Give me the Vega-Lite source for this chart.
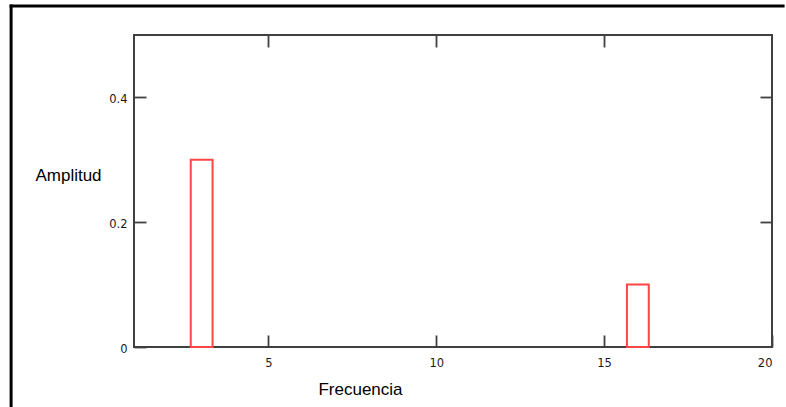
{
  "$schema": "https://vega.github.io/schema/vega-lite/v6.json",
  "width": 638,
  "height": 312,
  "autosize": {"type": "none"},
  "padding": {"left": 134, "top": 35, "right": 14, "bottom": 60},
  "background": "white",
  "config": {
    "view": {"stroke": "#404040", "strokeWidth": 2},
    "axis": {
      "grid": false,
      "domain": false,
      "tickColor": "#404040",
      "tickWidth": 1.8,
      "tickSize": -12,
      "labelFont": "DejaVu Sans",
      "labelFontSize": 11.5,
      "labelColor": "#1a1a1a",
      "titleFont": "Liberation Sans",
      "titleFontSize": 17,
      "titleFontWeight": "normal",
      "titleColor": "#000000"
    }
  },
  "datasets": {
    "espectro": [
      {"f_ini": 2.69, "f_fin": 3.34, "amplitud": 0.3},
      {"f_ini": 15.68, "f_fin": 16.33, "amplitud": 0.1}
    ],
    "marco": [
      {"x_a": -2.66, "x_b": -2.66, "y_a": -0.094, "y_b": 0.5465},
      {"x_a": -2.66, "x_b": 20.33, "y_a": 0.5465, "y_b": 0.5465}
    ]
  },
  "layer": [
    {
      "data": {"name": "marco"},
      "mark": {"type": "rule", "stroke": "#000000", "strokeWidth": 3, "strokeCap": "square", "clip": false},
      "encoding": {
        "x": {
          "field": "x_a", "type": "quantitative",
          "scale": {"domain": [1, 20], "nice": false, "zero": false},
          "axis": {"orient": "top", "values": [5, 10, 15], "labels": false, "title": null}
        },
        "x2": {"field": "x_b"},
        "y": {
          "field": "y_a", "type": "quantitative",
          "scale": {"domain": [0, 0.5], "nice": false, "zero": false},
          "axis": {"orient": "right", "values": [0.2, 0.4], "labels": false, "title": null}
        },
        "y2": {"field": "y_b"}
      }
    },
    {
      "data": {"name": "espectro"},
      "mark": {"type": "rect", "fill": "#ffffff", "stroke": "#ff4545", "strokeWidth": 2},
      "encoding": {
        "x": {
          "field": "f_ini", "type": "quantitative",
          "axis": {
            "orient": "bottom", "values": [5, 10, 15, 20], "format": "~g",
            "labelPadding": 22, "labelBaseline": "top",
            "title": "Frecuencia", "titleX": 226, "titleY": 42,
            "titleAlign": "center", "titleBaseline": "middle", "titleAnchor": null
          }
        },
        "x2": {"field": "f_fin"},
        "y": {
          "field": "amplitud", "type": "quantitative",
          "axis": {
            "orient": "left", "values": [0, 0.2, 0.4], "format": "~g",
            "labelPadding": 19, "labelBaseline": "middle", "labelOffset": 2,
            "title": "Amplitud", "titleAngle": 0, "titleX": -66, "titleY": 140,
            "titleAlign": "center", "titleBaseline": "middle", "titleAnchor": null
          }
        },
        "y2": {"datum": 0}
      }
    }
  ],
  "resolve": {"axis": {"x": "independent", "y": "independent"}}
}
